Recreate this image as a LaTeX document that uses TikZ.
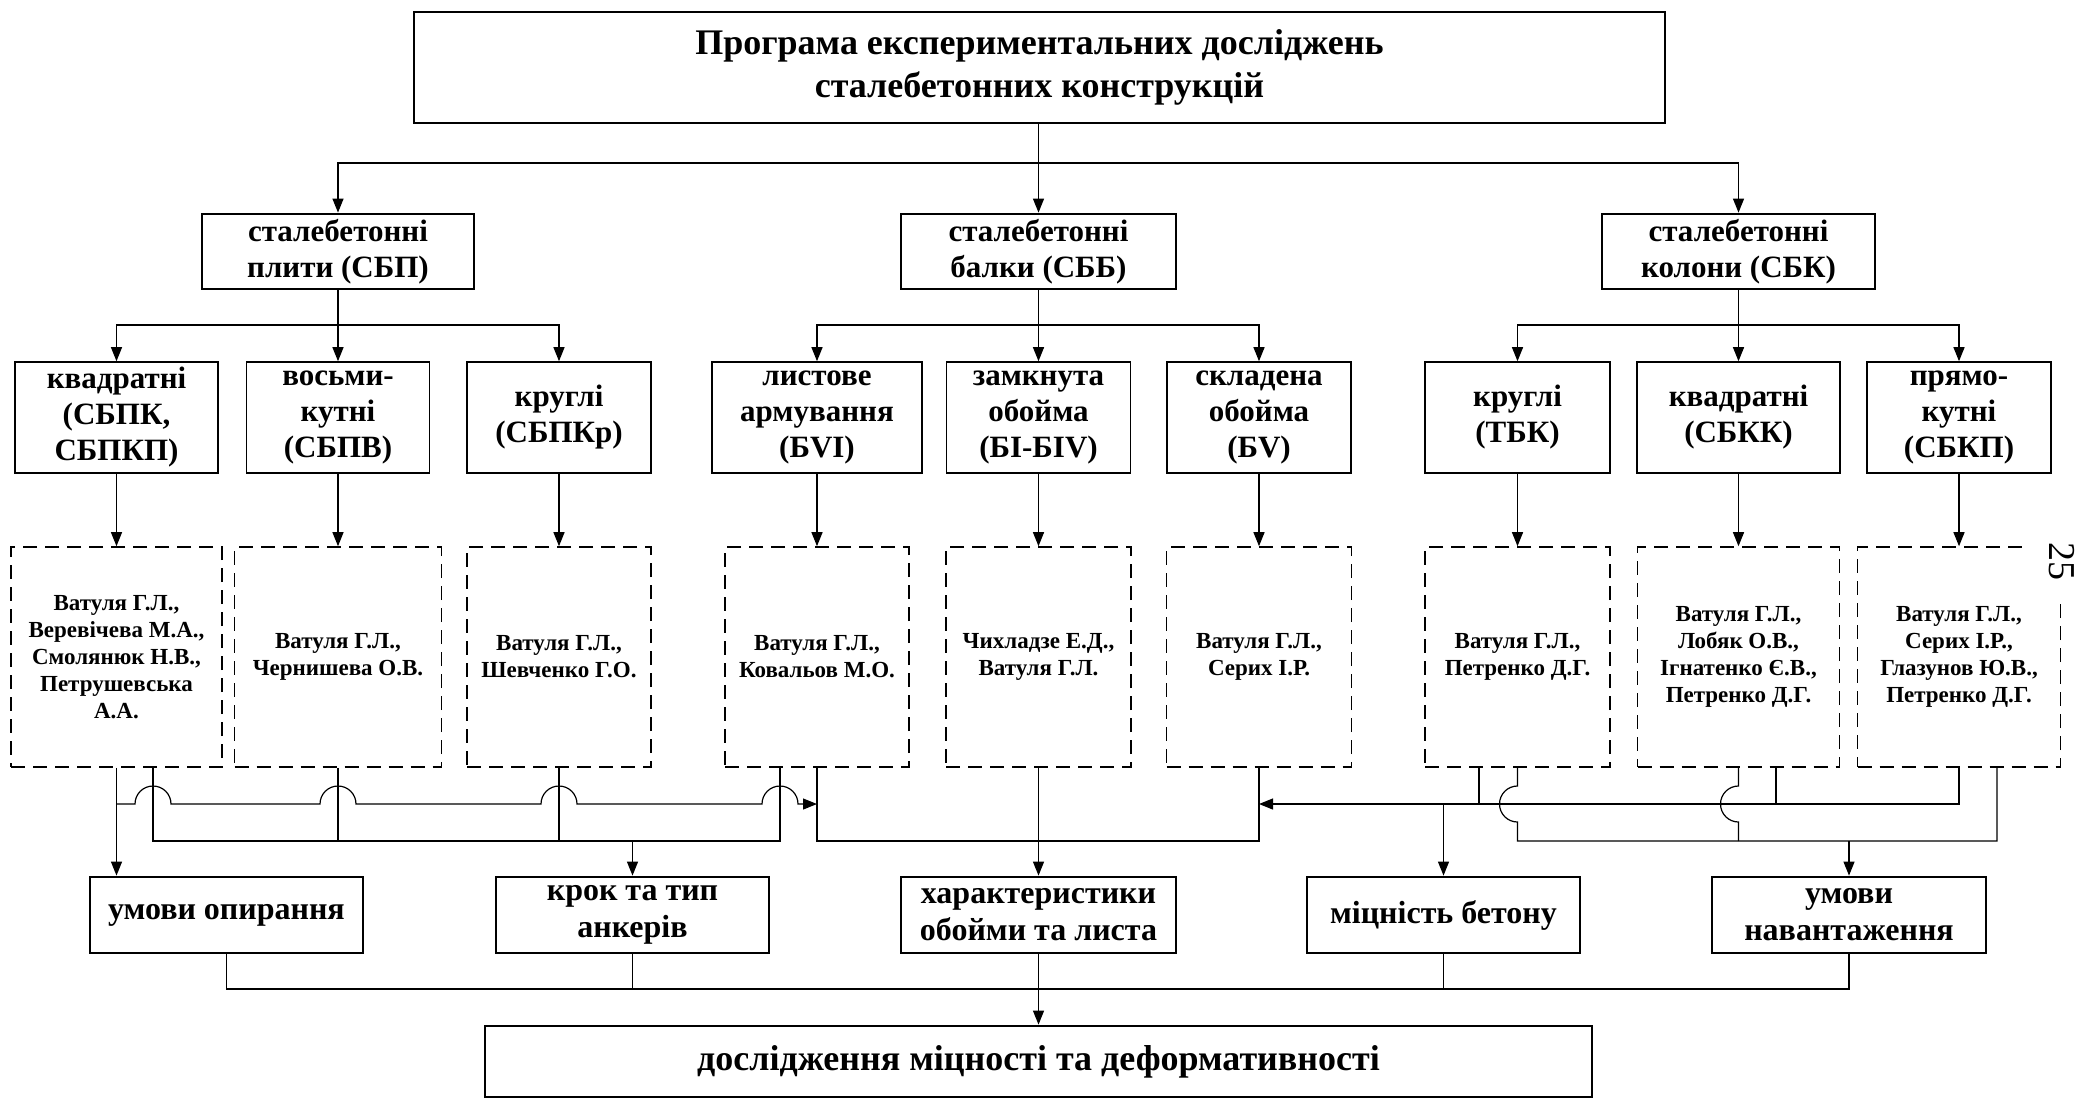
\documentclass[tikz,border=0pt]{standalone}
\usepackage{fontspec}
\setmainfont{Liberation Serif}
\usetikzlibrary{arrows.meta}
\begin{document}
\begin{tikzpicture}[x=0.5pt,y=-0.5pt,
  every node/.style={inner sep=0pt, align=center},
  sz/.style 2 args={minimum width={(#1)*0.5pt}, minimum height={(#2)*0.5pt}},
  bigbox/.style={draw, line width=1.4pt, font=\bfseries\fontsize{18}{21.5}\selectfont},
  thickbox/.style={draw, line width=1.4pt, font=\bfseries\fontsize{15.5}{18}\selectfont},
  factbox/.style={draw, line width=1.4pt, font=\bfseries\fontsize{16}{18.5}\selectfont},
  midbox/.style={draw, line width=0.8pt, font=\bfseries\fontsize{15.5}{18}\selectfont},
  authbox/.style={draw, dash pattern=on 7pt off 4pt, line width=0.8pt, font=\bfseries\fontsize{11.5}{13.5}\selectfont},
  conn/.style={line width=0.6pt},
  arr/.style={conn, -{Triangle[length=7pt,width=5.5pt]}},
]
\useasboundingbox (0,0) rectangle (2082,1099);

% top
\node[bigbox, sz={1251}{111}] (prog) at (1039.5,67.5) {Програма експериментальних досліджень\\сталебетонних конструкцій};

% level 1
\node[thickbox, sz={272}{75}] (p1) at (338,251.5) {сталебетонні\\плити (СБП)};
\node[thickbox, sz={275}{75}] (b1) at (1038.5,251.5) {сталебетонні\\балки (СББ)};
\node[thickbox, sz={273}{75}] (k1) at (1738.5,251.5) {сталебетонні\\колони (СБК)};

% level 2
\node[midbox, sz={203}{111}] (q)  at (116.5,417.5) {квадратні\\(СБПК,\\СБПКП)};
\node[midbox, sz={183}{111}] (v)  at (338,417.5) {восьми-\\кутні\\(СБПВ)};
\node[midbox, sz={184}{111}] (kr) at (559,417.5) {круглі\\(СБПКр)};
\node[midbox, sz={210}{111}] (l)  at (817,417.5) {листове\\армування\\(БVI)};
\node[midbox, sz={184}{111}] (z)  at (1038.5,417.5) {замкнута\\обойма\\(БІ-БІV)};
\node[midbox, sz={184}{111}] (s)  at (1259,417.5) {складена\\обойма\\(БV)};
\node[midbox, sz={185}{111}] (tk) at (1517.5,417.5) {круглі\\(ТБК)};
\node[midbox, sz={203}{111}] (kk) at (1738.5,417.5) {квадратні\\(СБКК)};
\node[midbox, sz={184}{111}] (pk) at (1959,417.5) {прямо-\\кутні\\(СБКП)};

% authors
\node[authbox, sz={211}{220}] (a1) at (116.5,657) {Ватуля Г.Л.,\\Веревічева М.А.,\\Смолянюк Н.В.,\\Петрушевська\\А.А.};
\node[authbox, sz={207}{220}] (a2) at (338,657) {Ватуля Г.Л.,\\Чернишева О.В.};
\node[authbox, sz={184}{220}] (a3) at (559,657) {Ватуля Г.Л.,\\Шевченко Г.О.};
\node[authbox, sz={184}{220}] (a4) at (817,657) {Ватуля Г.Л.,\\Ковальов М.О.};
\node[authbox, sz={185}{220}] (a5) at (1038.5,657) {Чихладзе Е.Д.,\\Ватуля Г.Л.};
\node[authbox, sz={185}{220}] (a6) at (1259,657) {Ватуля Г.Л.,\\Серих І.Р.};
\node[authbox, sz={185}{220}] (a7) at (1517.5,657) {Ватуля Г.Л.,\\Петренко Д.Г.};
\node[authbox, sz={202}{220}] (a8) at (1738.5,657) {Ватуля Г.Л.,\\Лобяк О.В.,\\Ігнатенко Є.В.,\\Петренко Д.Г.};
\node[authbox, sz={203}{220}] (a9) at (1959,657) {Ватуля Г.Л.,\\Серих І.Р.,\\Глазунов Ю.В.,\\Петренко Д.Г.};

% page number mask
\fill[white] (2025,526) rectangle (2082,600);
\node[rotate=-90, font=\fontsize{19}{19}\selectfont] (pg) at (2062,561) {25};

% factors
\node[factbox, sz={273}{76}] (c1) at (226.5,915) {умови опирання};
\node[factbox, sz={273}{76}] (c2) at (632.5,915) {крок та тип\\анкерів};
\node[factbox, sz={275}{76}] (c3) at (1038.5,915) {характеристики\\обойми та листа};
\node[factbox, sz={273}{76}] (c4) at (1443.5,915) {міцність бетону};
\node[factbox, sz={274}{76}] (c5) at (1849,915) {умови\\навантаження};

% final
\node[bigbox, sz={1107}{71}] (fin) at (1038.5,1061.5) {дослідження міцності та деформативності};

% helper levels
\coordinate (h0) at (0,163);
\coordinate (h1) at (0,325);
\coordinate (yU) at (0,804);
\coordinate (yL) at (0,841);
\coordinate (yB) at (0,989);

% top -> level 1
\draw[arr] (b1.north |- prog.south) -- (b1.north);
\draw[arr] (b1.north |- h0) -| (p1.north);
\draw[arr] (b1.north |- h0) -| (k1.north);

% level 1 -> level 2
\foreach \pp/\a/\b/\c in {p1/q/v/kr, b1/l/z/s, k1/tk/kk/pk}{
  \draw[arr] (\pp.south) -- (\b.north);
  \draw[arr] (\pp.south |- h1) -| (\a.north);
  \draw[arr] (\pp.south |- h1) -| (\c.north);
}

% level 2 -> authors
\foreach \u/\w in {q/a1, v/a2, kr/a3, l/a4, z/a5, s/a6, tk/a7, kk/a8, pk/a9}{
  \draw[arr] (\u.south) -- (\w.north);
}

% left group
\coordinate (uLs) at (116.5,804);
\coordinate (l1) at (153,841);
\coordinate (l2) at (780,841);
\draw[arr] (a1.south) -- (a1.south |- c1.north);
\draw[arr] (uLs) -- (135,804) arc[start angle=180, end angle=0, radius=9pt]
  -- (320,804) arc[start angle=180, end angle=0, radius=9pt]
  -- (541,804) arc[start angle=180, end angle=0, radius=9pt]
  -- (762,804) arc[start angle=180, end angle=0, radius=9pt]
  -- (a4.south |- yU);
\draw[conn] (a1.south -| l1) -- (l1) -- (l2) -- (a4.south -| l2);
\draw[conn] (a2.south) -- (a2.south |- yL);
\draw[conn] (a3.south) -- (a3.south |- yL);
\draw[arr] (c2.north |- yL) -- (c2.north);

% middle
\draw[conn] (a4.south) -- (a4.south |- yL) -- (a6.south |- yL) -- (a6.south);
\draw[arr] (a5.south) -- (c3.north);

% right group
\coordinate (r1) at (1479,767);
\coordinate (r2) at (1776,767);
\coordinate (r3) at (1997,767);
\draw[arr] (a9.south) -- (a9.south |- yU) -- (a6.south |- yU);
\draw[conn] (r1) -- (r1 |- yU);
\draw[conn] (r2) -- (r2 |- yU);
\draw[arr] (c4.north |- yU) -- (c4.north);
\draw[conn] (a7.south) -- (1517.5,786) arc[start angle=90, end angle=270, radius=9pt]
  -- (a7.south |- yL) -- (r3 |- yL) -- (r3);
\draw[conn] (a8.south) -- (1738.5,786) arc[start angle=90, end angle=270, radius=9pt]
  -- (a8.south |- yL);
\draw[arr] (c5.north |- yL) -- (c5.north);

% bottom bus
\draw[conn] (c1.south) -- (c1.south |- yB) -- (c5.south |- yB) -- (c5.south);
\draw[conn] (c2.south) -- (c2.south |- yB);
\draw[conn] (c4.south) -- (c4.south |- yB);
\draw[arr] (c3.south) -- (fin.north);
\end{tikzpicture}
\end{document}
